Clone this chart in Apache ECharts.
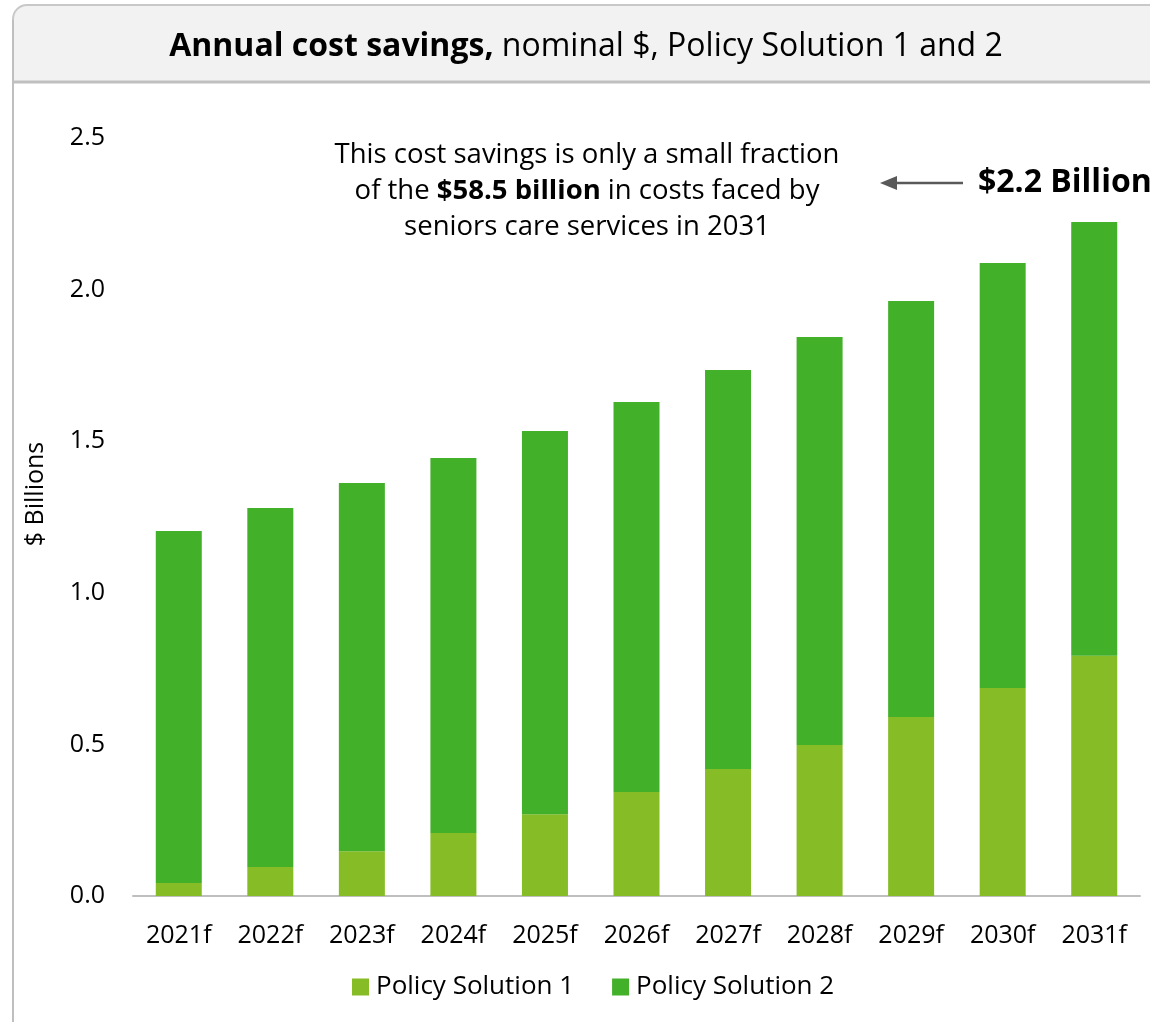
<!DOCTYPE html>
<html>
<head>
<meta charset="utf-8">
<script src="https://cdn.jsdelivr.net/npm/echarts@6/dist/echarts.min.js"></script>
<style>
  html, body { margin: 0; padding: 0; background: #fff; }
  #chart { width: 1150px; height: 1022px; }
</style>
</head>
<body>
<div id="chart"></div>
<script>
  // data ($ billions)
  const years = ["2021f", "2022f", "2023f", "2024f", "2025f", "2026f", "2027f", "2028f", "2029f", "2030f", "2031f"];
  const policy1 = [0.043, 0.096, 0.148, 0.208, 0.270, 0.343, 0.419, 0.498, 0.590, 0.686, 0.792];
  const policy2 = [1.161, 1.184, 1.214, 1.237, 1.264, 1.286, 1.316, 1.346, 1.372, 1.402, 1.431];
  const seriesNames = ["Policy Solution 1", "Policy Solution 2"];
  const yTicks = { min: 0, max: 2.5, interval: 0.5 };

  const FONT = "Open Sans";
  const chart = echarts.init(document.getElementById("chart"));

  const option = {
    animation: false,
    textStyle: { fontFamily: FONT, color: "#000" },
    graphic: [
      // header band
      {
        type: "rect",
        z: -10,
        shape: { x: 13, y: 5, width: 1160, height: 77, r: [14, 0, 0, 0] },
        style: { fill: "#f2f2f2", stroke: "#c8c8c8", lineWidth: 2 }
      },
      {
        type: "line",
        z: -9,
        shape: { x1: 13, y1: 82, x2: 1150, y2: 82 },
        style: { stroke: "#c0c0c0", lineWidth: 3 }
      },
      {
        type: "line",
        z: -9,
        shape: { x1: 13, y1: 20, x2: 13, y2: 1022 },
        style: { stroke: "#bfbfbf", lineWidth: 2 }
      },
      // title
      {
        type: "text",
        x: 586,
        y: 47,
        style: {
          text: "{b|Annual cost savings,} nominal $, Policy Solution 1 and 2",
          fontFamily: FONT,
          fontSize: 32,
          fill: "#000",
          align: "center",
          verticalAlign: "middle",
          rich: {
            b: { fontFamily: FONT, fontSize: 32, fontWeight: "bold", fill: "#000" }
          }
        }
      },
      // y axis title
      {
        type: "text",
        x: 36,
        y: 494,
        rotation: Math.PI / 2,
        style: {
          text: "$ Billions",
          fontFamily: FONT,
          fontSize: 25,
          fill: "#000",
          align: "center",
          verticalAlign: "middle"
        }
      },
      // annotation
      {
        type: "text",
        x: 587,
        y: 137,
        style: {
          text: "This cost savings is only a small fraction\nof the {b|$58.5 billion} in costs faced by\nseniors care services in 2031",
          fontFamily: FONT,
          fontSize: 27.5,
          lineHeight: 36,
          fill: "#000",
          align: "center",
          rich: {
            b: { fontFamily: FONT, fontSize: 27.5, fontWeight: "bold", fill: "#000", lineHeight: 36 }
          }
        }
      },
      {
        type: "line",
        shape: { x1: 963, y1: 183, x2: 893, y2: 183 },
        style: { stroke: "#595959", lineWidth: 2.5 }
      },
      {
        type: "polygon",
        shape: { points: [[880, 183], [897, 176], [897, 190]] },
        style: { fill: "#595959" }
      },
      {
        type: "text",
        x: 978,
        y: 183,
        style: {
          text: "$2.2 Billion",
          fontFamily: FONT,
          fontSize: 32,
          fontWeight: "bold",
          fill: "#000",
          verticalAlign: "middle"
        }
      }
    ],
    legend: {
      data: seriesNames,
      left: 352,
      top: 974,
      padding: 0,
      itemWidth: 17,
      itemHeight: 17,
      itemGap: 38,
      icon: "rect",
      textStyle: { fontFamily: FONT, fontSize: 26, color: "#000", padding: [0, 0, 0, 2] }
    },
    grid: {
      left: 133,
      right: 10,
      top: 138,
      bottom: 126,
      containLabel: false
    },
    xAxis: {
      type: "category",
      data: years,
      axisLine: { lineStyle: { color: "#bfbfbf", width: 2 } },
      axisTick: { show: false },
      axisLabel: { fontFamily: FONT, fontSize: 25, color: "#000", margin: 27 }
    },
    yAxis: {
      type: "value",
      min: yTicks.min,
      max: yTicks.max,
      interval: yTicks.interval,
      splitLine: { show: false },
      axisLine: { show: false },
      axisTick: { show: false },
      axisLabel: {
        fontFamily: FONT,
        fontSize: 25,
        color: "#000",
        margin: 28,
        formatter: v => v.toFixed(1)
      }
    },
    series: [
      {
        name: seriesNames[0],
        type: "bar",
        stack: "total",
        barWidth: 46,
        itemStyle: { color: "#86bc25" },
        data: policy1
      },
      {
        name: seriesNames[1],
        type: "bar",
        stack: "total",
        barWidth: 46,
        itemStyle: { color: "#43b02a" },
        data: policy2
      }
    ]
  };

  chart.setOption(option);
  window.addEventListener("resize", () => {
    chart.resize();
  });
</script>
</body>
</html>
